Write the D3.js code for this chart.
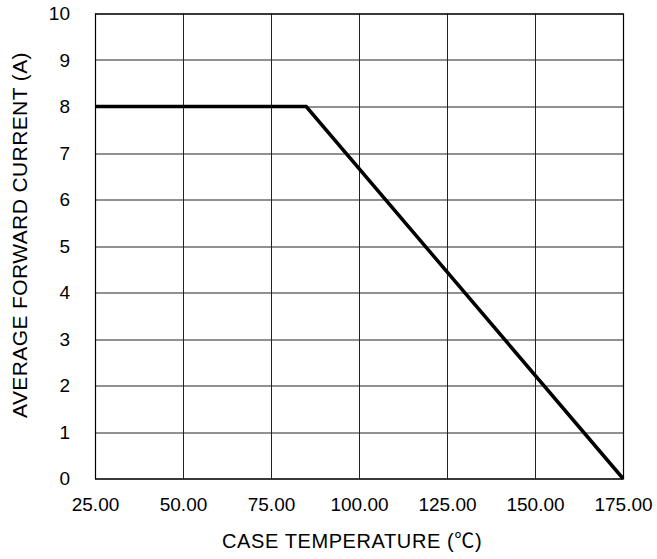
<!DOCTYPE html>
<html>
<head>
<meta charset="utf-8">
<script src="https://cdn.jsdelivr.net/npm/d3@7"></script>
<style>
  body { margin: 0; background: #fff; }
  text { font-family: "Liberation Sans", "Noto Sans CJK SC", Arial, sans-serif; fill: #000; }
</style>
</head>
<body>
<div id="chart"></div>
<script>
'use strict';

var xTicks = [25, 50, 75, 100, 125, 150, 175];
var yTicks = [0, 1, 2, 3, 4, 5, 6, 7, 8, 9, 10];
var temps = [25, 85, 175];
var current = [8, 8, 0];

var xLabel = "CASE TEMPERATURE (\u2103)";
var yLabel = "AVERAGE FORWARD CURRENT (A)";

var W = 657, H = 559;
var margin = {top: 13.5, right: 34, bottom: 80.5, left: 95},
  width = W - margin.left - margin.right,
  height = H - margin.top - margin.bottom;

var fontFamily = '"Liberation Sans", "Noto Sans CJK SC", Arial, sans-serif';

var svg = d3.select("#chart").append("svg")
  .attr("width", W)
  .attr("height", H);

var g = svg.append("g")
  .attr("transform", "translate(" + margin.left + "," + margin.top + ")");

var x = d3.scaleLinear().domain([25, 175]).range([0, width]),
  y = d3.scaleLinear().domain([0, 10]).range([height, 0]);

// grid
g.selectAll(".vgrid")
  .data(xTicks)
  .enter().append("line")
  .attr("class", "vgrid")
  .attr("x1", d => Math.round(x(d)) + 0.5)
  .attr("x2", d => Math.round(x(d)) + 0.5)
  .attr("y1", 0)
  .attr("y2", height)
  .attr("stroke", "#222")
  .attr("stroke-width", 1);

g.selectAll(".hgrid")
  .data(yTicks)
  .enter().append("line")
  .attr("class", "hgrid")
  .attr("x1", 0)
  .attr("x2", width)
  .attr("y1", d => Math.round(y(d)) + 0.5)
  .attr("y2", d => Math.round(y(d)) + 0.5)
  .attr("stroke", "#222")
  .attr("stroke-width", 1);

g.append("rect")
  .attr("x", 0.5).attr("y", 0.5)
  .attr("width", width).attr("height", height)
  .attr("fill", "none")
  .attr("stroke", "#000")
  .attr("stroke-width", 1.2);

// axes (labels only)
var xAxis = g.append("g")
  .attr("transform", "translate(0," + height + ")")
  .call(d3.axisBottom(x).tickValues(xTicks).tickSize(0).tickPadding(19).tickFormat(d3.format(".2f")));
var yAxis = g.append("g")
  .call(d3.axisLeft(y).tickValues(yTicks).tickSize(0).tickPadding(25).tickFormat(d3.format("d")));

[xAxis, yAxis].forEach(function(a){
  a.select(".domain").remove();
  a.selectAll("text")
    .style("font-size", "19px")
    .style("font-family", fontFamily)
    .attr("fill", "#000");
});

// curve
var line = d3.line()
  .x((d, i) => x(temps[i]))
  .y(d => y(d));

g.append("path")
  .datum(current)
  .attr("d", line)
  .attr("fill", "none")
  .attr("stroke", "#000")
  .attr("stroke-width", 3.5)
  .attr("stroke-linejoin", "miter");

// titles
svg.append("text")
  .attr("x", 222)
  .attr("y", 548)
  .attr("text-anchor", "start")
  .style("font-size", "20px")
  .style("letter-spacing", "0.6px")
  .style("font-family", fontFamily)
  .text(xLabel);

svg.append("text")
  .attr("transform", "translate(27,235) rotate(-90)")
  .attr("text-anchor", "middle")
  .style("font-size", "21px")
  .style("letter-spacing", "0.4px")
  .style("font-family", fontFamily)
  .text(yLabel);
</script>
</body>
</html>
